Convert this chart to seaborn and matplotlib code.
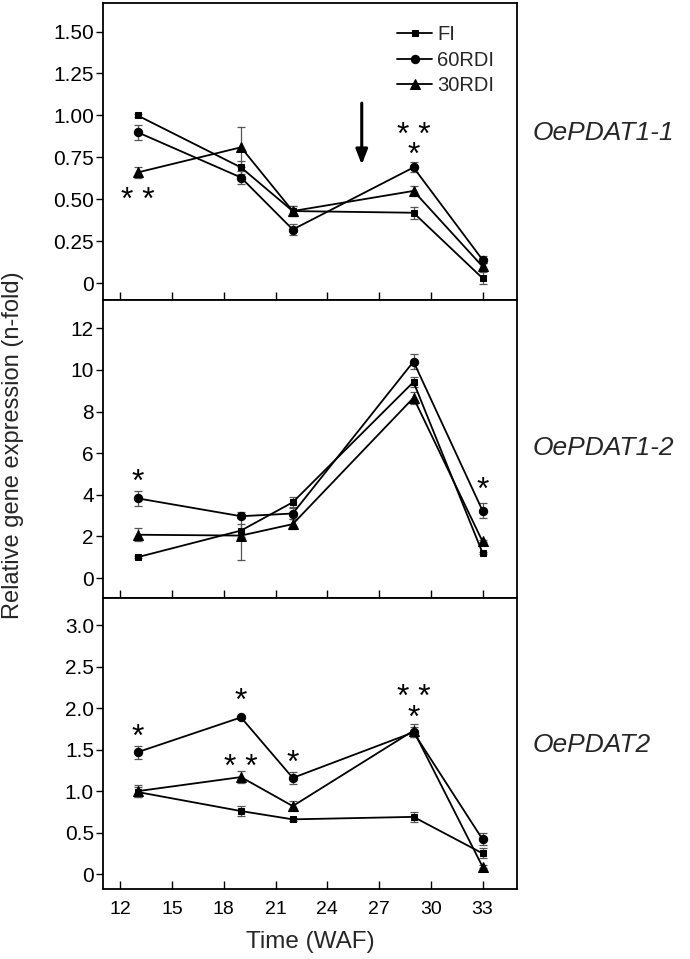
import numpy as np
import pandas as pd
import matplotlib
matplotlib.use("Agg")
import matplotlib.pyplot as plt
import seaborn as sns

# ---------------- data ----------------
waf = [13, 19, 22, 29, 33]
treatments = ["FI", "60RDI", "30RDI"]
genes = ["OePDAT1-1", "OePDAT1-2", "OePDAT2"]

p11_fi = [1.00, 0.69, 0.43, 0.42, 0.03]
p11_60 = [0.90, 0.63, 0.32, 0.69, 0.14]
p11_30 = [0.66, 0.81, 0.43, 0.55, 0.10]
p11_fi_err = [0.01, 0.04, 0.03, 0.035, 0.035]
p11_60_err = [0.045, 0.04, 0.03, 0.03, 0.02]
p11_30_err = [0.035, 0.12, 0.03, 0.03, 0.02]

p12_fi = [1.00, 2.28, 3.64, 9.42, 1.21]
p12_60 = [3.83, 2.97, 3.10, 10.40, 3.24]
p12_30 = [2.08, 2.04, 2.59, 8.66, 1.76]
p12_fi_err = [0.05, 0.30, 0.25, 0.25, 0.05]
p12_60_err = [0.37, 0.10, 0.25, 0.35, 0.35]
p12_30_err = [0.30, 1.15, 0.25, 0.30, 0.05]

p2_fi = [0.99, 0.76, 0.66, 0.69, 0.25]
p2_60 = [1.47, 1.89, 1.16, 1.71, 0.42]
p2_30 = [1.00, 1.17, 0.82, 1.73, 0.09]
p2_fi_err = [0.06, 0.06, 0.02, 0.06, 0.06]
p2_60_err = [0.08, 0.02, 0.07, 0.06, 0.07]
p2_30_err = [0.07, 0.07, 0.06, 0.08, 0.02]

yticks_11 = [0, 0.25, 0.50, 0.75, 1.00, 1.25, 1.50]
yticklabels_11 = ["0", "0.25", "0.50", "0.75", "1.00", "1.25", "1.50"]
yticks_12 = [0, 2, 4, 6, 8, 10, 12]
yticklabels_12 = ["0", "2", "4", "6", "8", "10", "12"]
yticks_2 = [0, 0.5, 1.0, 1.5, 2.0, 2.5, 3.0]
yticklabels_2 = ["0", "0.5", "1.0", "1.5", "2.0", "2.5", "3.0"]
xticks = [12, 15, 18, 21, 24, 27, 30, 33]

# significance marks: (panel, x, y of lowest mark, text)
stars = [
    (0, 13, 0.53, "* *"), (0, 29, 0.80, "* *\n*"),
    (1, 13, 4.9, "*"), (1, 33, 4.5, "*"),
    (2, 13, 1.73, "*"), (2, 19, 2.16, "*"), (2, 19, 1.36, "* *"),
    (2, 22, 1.41, "*"), (2, 29, 1.96, "* *\n*"),
]

panels = [
    (p11_fi, p11_60, p11_30, p11_fi_err, p11_60_err, p11_30_err),
    (p12_fi, p12_60, p12_30, p12_fi_err, p12_60_err, p12_30_err),
    (p2_fi, p2_60, p2_30, p2_fi_err, p2_60_err, p2_30_err),
]
ylims = [(-0.1, 1.67), (-0.96, 13.36), (-0.18, 3.33)]
yticks_all = [(yticks_11, yticklabels_11), (yticks_12, yticklabels_12), (yticks_2, yticklabels_2)]

# ---------------- style ----------------
sns.set_style("ticks")
plt.rcParams["font.family"] = ["Liberation Sans", "DejaVu Sans"]

fig = plt.figure(figsize=(6.9, 9.59), dpi=100)
left, width = 103 / 690, 414 / 690
bounds_px = [(3, 300), (300, 598), (598, 889)]
markers = {"FI": "s", "60RDI": "o", "30RDI": "^"}
msizes = {"FI": 5, "60RDI": 6, "30RDI": 6.5}

axes = []
for i, (top, bot) in enumerate(bounds_px):
    ax = fig.add_axes([left, 1 - bot / 959, width, (bot - top) / 959])
    axes.append(ax)
    vals = panels[i]
    rows = []
    for t, v in zip(treatments, vals[:3]):
        for x, y in zip(waf, v):
            rows.append({"WAF": x, "value": y, "treatment": t})
    df = pd.DataFrame(rows)
    # error bars
    for t, v, e in zip(treatments, vals[:3], vals[3:]):
        ax.errorbar(waf, v, yerr=e, fmt="none", ecolor="#555555",
                    elinewidth=0.9, capsize=2.6, capthick=0.9, zorder=1)
    for t in treatments:
        sub = df[df["treatment"] == t]
        sns.lineplot(data=sub, x="WAF", y="value", ax=ax, color="black",
                     marker=markers[t], markersize=msizes[t], markeredgecolor="black",
                     linewidth=1.3, label=t, zorder=3)
    ax.set_xlim(11, 35)
    ax.set_ylim(*ylims[i])
    ax.set_yticks(yticks_all[i][0])
    ax.set_yticklabels(yticks_all[i][1])
    ax.set_xticks(xticks)
    ax.tick_params(axis="y", direction="out", length=5, width=1, pad=1.5,
                   labelsize=15, colors="black")
    ax.tick_params(axis="x", direction="in", length=6, width=1, pad=9,
                   labelsize=14, colors="black")
    if i < 2:
        ax.set_xticklabels([])
    ax.set_xlabel("")
    ax.set_ylabel("")
    for s in ax.spines.values():
        s.set_visible(True)
        s.set_linewidth(1.3)
        s.set_color("black")
    if i == 0:
        leg = ax.legend(loc="upper left", bbox_to_anchor=(0.71, 0.925), frameon=False,
                        fontsize=14.5, handlelength=1.75, handletextpad=0.25,
                        labelspacing=0.32, borderaxespad=0, borderpad=0)
    else:
        if ax.get_legend():
            ax.get_legend().remove()

axes[2].set_xlabel("Time (WAF)", fontsize=17.5, labelpad=9)

star_fs = 23
for p, x, y, s in stars:
    axes[p].annotate(s, xy=(x, y), xytext=(0, -0.47 * star_fs), textcoords="offset points",
                     ha="center", va="baseline", multialignment="center",
                     linespacing=0.58, fontsize=star_fs, color="black")

axes[0].annotate("", xy=(26, 0.69), xytext=(26, 1.09),
                 arrowprops=dict(arrowstyle="-|>,head_width=0.35,head_length=0.9",
                                 color="black", lw=2.2))

gene_y = [133, 448, 745]
for g, gy in zip(genes, gene_y):
    fig.text(533 / 690, 1 - gy / 959, g, fontsize=19, style="italic",
             ha="left", va="center")

fig.text(13 / 690, 1 - 445 / 959, "Relative gene expression (n-fold)", rotation=90,
         fontsize=17, ha="center", va="center")

fig.savefig("out.png", dpi=100)
